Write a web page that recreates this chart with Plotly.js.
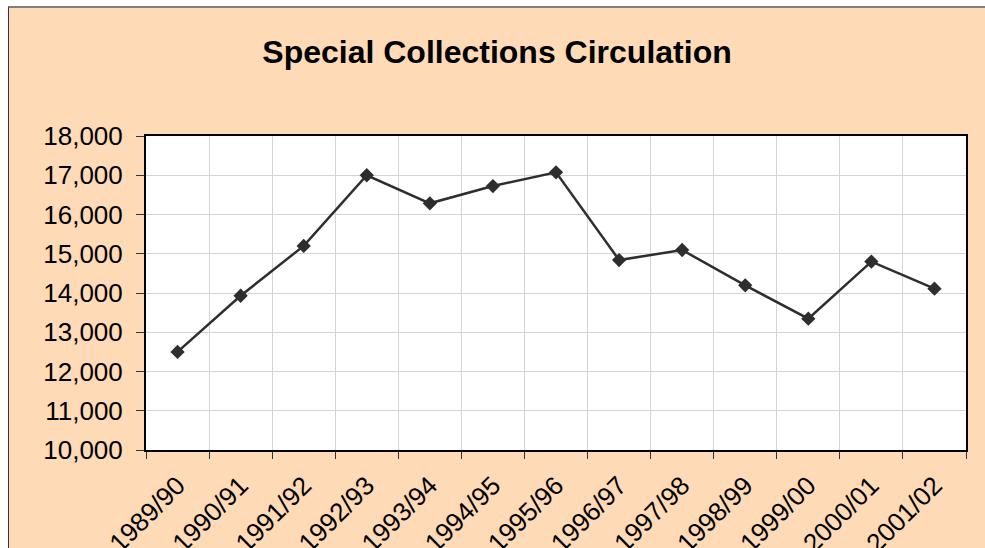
<!DOCTYPE html>
<html>
<head>
<meta charset="utf-8">
<script src="https://cdn.plot.ly/plotly-3.0.1.min.js"></script>
<style>
  html, body { margin: 0; padding: 0; background: #ffffff; width: 985px; height: 548px; overflow: hidden; }
  #frame { position: absolute; left: 8px; top: 6px; width: 977px; height: 542px;
           border-left: 1px solid #3a3230; border-top: 2px solid #7f7f7f; background: #FFDAB6; }
  #chart { width: 976px; height: 540px; }
</style>
</head>
<body>
<div id="frame"><div id="chart"></div></div>
<script>
const categories = ["1989/90","1990/91","1991/92","1992/93","1993/94","1994/95","1995/96",
                    "1996/97","1997/98","1998/99","1999/00","2000/01","2001/02"];
const circulation = [12500, 13930, 15200, 17000, 16285, 16725, 17075,
                     14840, 15095, 14195, 13345, 14800, 14110];
const yTickValues = [10000, 11000, 12000, 13000, 14000, 15000, 16000, 17000, 18000];

const trace = {
  type: "scatter",
  mode: "lines+markers",
  x: categories,
  y: circulation,
  line: { color: "#2e2e2e", width: 2.5 },
  marker: { symbol: "diamond", size: 11, color: "#2e2e2e", line: { width: 0 } },
  hoverinfo: "x+y"
};

const layout = {
  width: 976,
  height: 540,
  paper_bgcolor: "#FFDAB6",
  plot_bgcolor: "#ffffff",
  margin: { l: 137, r: 19, t: 128, b: 98 },
  showlegend: false,
  font: { family: "Liberation Sans, Arial, sans-serif", color: "#000000" },
  title: {
    text: "<b>Special Collections Circulation</b>",
    font: { family: "Liberation Sans, Arial, sans-serif", size: 32, color: "#000000" },
    x: 0.5, xanchor: "center",
    y: 1 - 44/540, yanchor: "middle", yref: "container"
  },
  xaxis: {
    type: "category",
    range: [-0.5, categories.length - 0.5],
    tickson: "boundaries",
    ticks: "outside", ticklen: 7, tickwidth: 1, tickcolor: "#333333",
    tickangle: -45,
    ticklabelstandoff: 8,
    tickfont: { size: 26, color: "#000000" },
    showgrid: true, gridcolor: "#d4d4d4", gridwidth: 1,
    showline: true, linecolor: "#000000", linewidth: 2, mirror: true,
    zeroline: false, fixedrange: true
  },
  yaxis: {
    range: [10000, 18000],
    tickvals: yTickValues,
    tickformat: ",d",
    ticks: "outside", ticklen: 8, tickwidth: 1, tickcolor: "#333333",
    ticklabelstandoff: 8,
    tickfont: { size: 26, color: "#000000" },
    showgrid: true, gridcolor: "#d4d4d4", gridwidth: 1,
    showline: true, linecolor: "#000000", linewidth: 2, mirror: true,
    zeroline: false, fixedrange: true
  }
};

Plotly.newPlot("chart", [trace], layout, { displayModeBar: false, staticPlot: true });
</script>
</body>
</html>
